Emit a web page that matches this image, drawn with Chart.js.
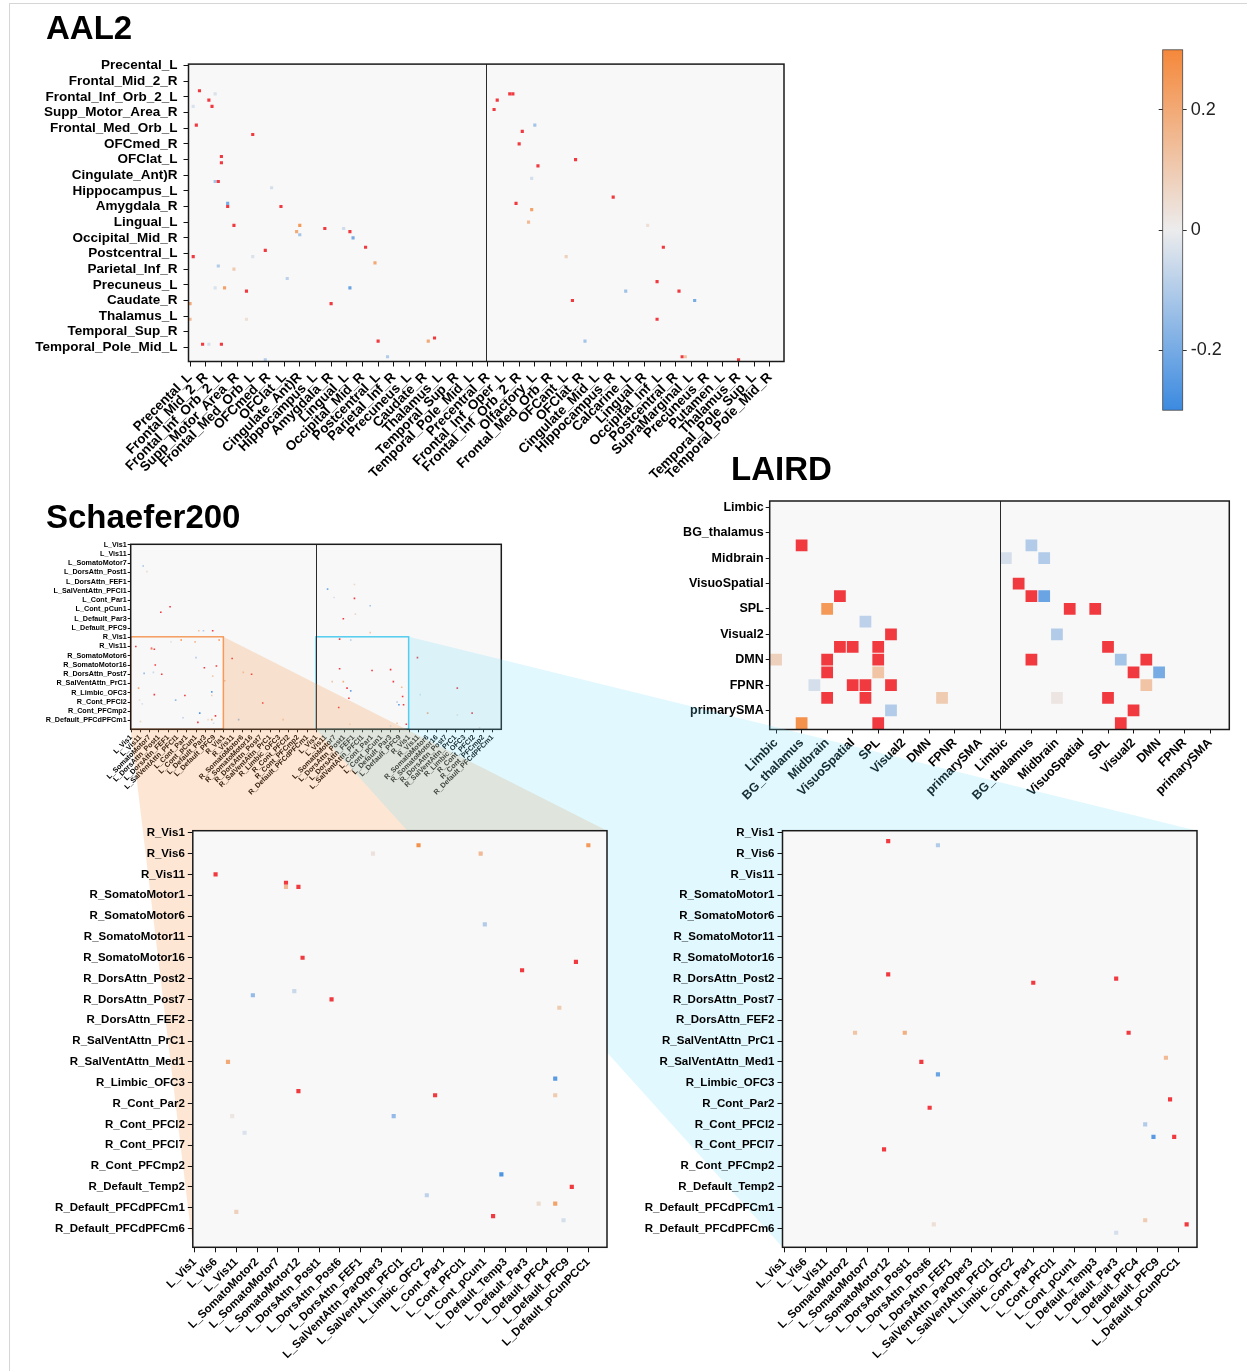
<!DOCTYPE html>
<html>
<head>
<meta charset="utf-8">
<script src="https://cdn.jsdelivr.net/npm/chart.js@4.4.1/dist/chart.umd.min.js"></script>
<style>
  html, body { margin: 0; padding: 0; background: #fff; }
  #page { position: relative; width: 1247px; height: 1371px; overflow: hidden; }
  canvas { position: absolute; }
  .frame { position: absolute; left: 9px; top: 3px; right: 0; bottom: 0; border-left: 1px solid #d6d6d6; border-top: 1px solid #d6d6d6; }
  .title { position: absolute; font: bold 33px 'Liberation Sans', Arial, sans-serif; line-height: 33px; color: #000; z-index: 5; white-space: nowrap; }
</style>
</head>
<body>
<div id="page">
  <div class="frame"></div>
  <div class="title" style="left:46px;top:11px">AAL2</div>
  <div class="title" style="left:731px;top:452px">LAIRD</div>
  <div class="title" style="left:46px;top:500px">Schaefer200</div>

  <canvas id="aal" width="800" height="440" style="left:0;top:50px;z-index:1"></canvas>
  <canvas id="cbar" width="97" height="390" style="left:1150px;top:35px;z-index:1"></canvas>
  <canvas id="laird" width="607" height="320" style="left:640px;top:490px;z-index:1"></canvas>
  <canvas id="sch" width="500" height="300" style="left:20px;top:530px;z-index:1"></canvas>
  <canvas id="links" width="1247" height="1371" style="left:0;top:0;z-index:2;pointer-events:none"></canvas>
  <canvas id="zoomL" width="605" height="556" style="left:20px;top:815px;z-index:3"></canvas>
  <canvas id="zoomR" width="595" height="556" style="left:620px;top:815px;z-index:3"></canvas>
</div>

<script>
// values above the colour bar's maximum are drawn in the "over" red
const R = 0.4;

// ---- AAL2 (95 regions per axis, labels every 5th region) ----
const aalRowLabels = ['Precental_L', 'Frontal_Mid_2_R', 'Frontal_Inf_Orb_2_L', 'Supp_Motor_Area_R',
  'Frontal_Med_Orb_L', 'OFCmed_R', 'OFClat_L', 'Cingulate_Ant)R', 'Hippocampus_L', 'Amygdala_R',
  'Lingual_L', 'Occipital_Mid_R', 'Postcentral_L', 'Parietal_Inf_R', 'Precuneus_L', 'Caudate_R',
  'Thalamus_L', 'Temporal_Sup_R', 'Temporal_Pole_Mid_L'];
const aalColLabels = aalRowLabels.concat(['Precentral_R', 'Frontal_Inf_Oper_L', 'Frontal_Inf_Orb_2_R',
  'Olfactory_L', 'Frontal_Med_Orb_R', 'OFCant_L', 'OFClat_R', 'Cingulate_Mid_L', 'Hippocampus_R',
  'Calcarine_L', 'Lingual_R', 'Occipital_Inf_L', 'Postcentral_R', 'SupraMarginal_L', 'Precuneus_R',
  'Putamen_L', 'Thalamus_R', 'Temporal_Pole_Sup_L', 'Temporal_Pole_Mid_R']);
// [column, row, value]
const aalCells = [
  [3, 8, R], [8, 9, -0.03], [6, 11, R], [7, 13, R], [1, 13, -0.03], [2, 19, R], [20, 22, R],
  [10, 29, R], [10, 31, R], [8, 37, -0.12], [9, 37, R], [26, 39, -0.04], [12, 44, -0.2], [12, 45, R],
  [29, 45, R], [14, 51, R], [35, 51, 0.25], [34, 53, 0.2], [35, 54, -0.12], [43, 52, R], [49, 52, -0.05],
  [51, 53, R], [52, 55, -0.2], [56, 58, R], [24, 59, R], [20, 61, -0.03], [1, 61, R], [59, 63, 0.2],
  [9, 64, -0.1], [14, 65, 0.1], [31, 68, -0.08], [11, 71, 0.22], [8, 71, -0.03], [51, 71, -0.22],
  [18, 72, R], [45, 76, R], [0, 76, 0.2], [0, 81, 0.15], [18, 81, 0.04], [60, 88, R], [76, 88, 0.2],
  [78, 87, R], [4, 89, R], [6, 89, -0.04], [10, 89, R], [24, 94, -0.1], [63, 93, -0.1],
  [98, 11, R], [97, 14, R], [102, 9, R], [103, 9, R], [110, 19, -0.12], [106, 21, R], [105, 25, R],
  [123, 30, R], [111, 32, R], [109, 36, -0.04], [135, 42, R], [104, 44, R], [109, 46, 0.22],
  [108, 50, 0.15], [146, 51, 0.04], [151, 58, R], [120, 61, 0.08], [149, 69, R], [139, 72, -0.13],
  [156, 72, R], [161, 75, -0.2], [122, 75, R], [149, 81, R], [126, 88, -0.12], [157, 93, R],
  [158, 93, 0.12], [175, 94, R]
];

// ---- LAIRD (18 rows, 36 columns, labels every 2nd) ----
const lairdLabels = ['Limbic', 'BG_thalamus', 'Midbrain', 'VisuoSpatial', 'SPL', 'Visual2', 'DMN', 'FPNR', 'primarySMA'];
const lairdCells = [
  [2, 3, R], [20, 3, -0.1], [18, 4, -0.04], [21, 4, -0.1], [19, 6, R], [5, 7, R], [20, 7, R],
  [21, 7, -0.22], [4, 8, 0.25], [23, 8, R], [25, 8, R], [7, 9, -0.08], [9, 10, R], [22, 10, -0.1],
  [5, 11, R], [6, 11, R], [8, 11, R], [26, 11, R], [0, 12, 0.08], [4, 12, R], [8, 12, R], [20, 12, R],
  [27, 12, -0.12], [29, 12, R], [4, 13, R], [8, 13, 0.12], [28, 13, R], [30, 13, -0.2], [3, 14, -0.04],
  [6, 14, R], [7, 14, R], [9, 14, R], [29, 14, 0.12], [4, 15, R], [7, 15, R], [13, 15, 0.1],
  [22, 15, 0.02], [26, 15, R], [9, 16, -0.1], [28, 16, R], [2, 17, 0.27], [8, 17, R], [27, 17, R]
];

// ---- Schaefer200 (200 rows, 400 columns); names of every 5th region ----
const schLabels = ['L_Vis1', 'L_Vis6', 'L_Vis11', 'L_SomatoMotor2', 'L_SomatoMotor7', 'L_SomatoMotor12',
  'L_DorsAttn_Post1', 'L_DorsAttn_Post6', 'L_DorsAttn_FEF1', 'L_SalVentAttn_ParOper3', 'L_SalVentAttn_PFCl1',
  'L_Limbic_OFC2', 'L_Cont_Par1', 'L_Cont_PFCl1', 'L_Cont_pCun1', 'L_Default_Temp3', 'L_Default_Par3',
  'L_Default_PFC4', 'L_Default_PFC9', 'L_Default_pCunPCC1',
  'R_Vis1', 'R_Vis6', 'R_Vis11', 'R_SomatoMotor1', 'R_SomatoMotor6', 'R_SomatoMotor11', 'R_SomatoMotor16',
  'R_DorsAttn_Post2', 'R_DorsAttn_Post7', 'R_DorsAttn_FEF2', 'R_SalVentAttn_PrC1', 'R_SalVentAttn_Med1',
  'R_Limbic_OFC3', 'R_Cont_Par2', 'R_Cont_PFCl2', 'R_Cont_PFCl7', 'R_Cont_PFCmp2', 'R_Default_Temp2',
  'R_Default_PFCdPFCm1', 'R_Default_PFCdPFCm6'];
const schCells = [
  // inside the orange inset
  [54, 103, 0.27], [95, 103, 0.25], [43, 105, 0.03], [69, 105, 0.15], [5, 110, R], [22, 112, R],
  [22, 113, 0.15], [25, 113, R], [70, 122, -0.1], [26, 130, R], [92, 131, R], [79, 133, R],
  [14, 139, -0.15], [24, 138, -0.06], [33, 140, R], [88, 142, 0.1], [8, 155, 0.2], [87, 159, -0.25],
  [25, 162, R], [58, 163, R], [87, 163, 0.1], [48, 168, -0.15], [9, 168, 0.02], [12, 172, -0.03],
  [74, 182, -0.27], [91, 185, R], [56, 187, -0.08], [83, 189, 0.05], [87, 189, 0.22], [10, 191, 0.08],
  [72, 192, R], [89, 193, -0.04],
  // inside the cyan inset
  [225, 102, R], [237, 103, -0.1], [225, 134, R], [260, 136, R], [280, 135, R], [217, 148, 0.12],
  [229, 148, 0.18], [283, 148, R], [292, 154, 0.15], [233, 155, R], [237, 158, -0.22], [293, 164, R],
  [235, 166, R], [287, 170, -0.1], [289, 173, -0.25], [294, 173, R], [224, 176, R], [287, 193, 0.1],
  [297, 194, R], [236, 194, 0.04], [280, 196, -0.04],
  // elsewhere
  [13, 23, -0.12], [17, 29, 0.05], [42, 67, R], [32, 73, R], [73, 93, 0.12], [78, 93, -0.1], [88, 93, R],
  [212, 48, -0.2], [219, 57, -0.04], [241, 43, 0.06], [241, 58, R], [258, 66, -0.12], [229, 80, R],
  [242, 75, 0.06], [258, 95, 0.1], [109, 123, R], [121, 138, 0.12], [130, 140, R], [101, 147, 0.12],
  [142, 171, R], [164, 189, 0.1], [116, 189, -0.15], [309, 122, R], [352, 155, R], [320, 182, 0.2],
  [368, 182, R], [312, 162, -0.04], [352, 184, 0.05], [376, 198, 0.05]
];

// ---- colour bar ----
const cbarRange = [-0.3, 0.3];
const cbarTicks = [-0.2, 0, 0.2];

const FONT = "'Liberation Sans', Arial, sans-serif";
const LOW = [59, 138, 224], MID = [236, 236, 237], HIGH = [245, 136, 58];
const OVER_COLOR = '#f03a40';

function cellColor(v) {
  if (v > cbarRange[1]) return OVER_COLOR;
  const t = Math.max(-1, Math.min(1, v / cbarRange[1]));
  const end = t < 0 ? LOW : HIGH;
  const c = MID.map((m, i) => Math.round(m + (end[i] - m) * Math.abs(t)));
  return 'rgb(' + c.join(',') + ')';
}

const panelPlugin = {
  id: 'panel',
  beforeDatasetsDraw(chart, args, opts) {
    const { ctx, chartArea: a } = chart;
    ctx.save();
    ctx.fillStyle = '#f8f8f8';
    ctx.fillRect(a.left, a.top, a.width, a.height);
    ctx.restore();
  },
  afterDatasetsDraw(chart, args, opts) {
    const { ctx, chartArea: a, scales: { x, y } } = chart;
    ctx.save();
    (opts.boxes || []).forEach(b => {
      ctx.strokeStyle = b.color;
      ctx.lineWidth = 1.5;
      const x0 = x.getPixelForValue(b.x[0]), x1 = x.getPixelForValue(b.x[1]);
      const y0 = y.getPixelForValue(b.y[0]), y1 = y.getPixelForValue(b.y[1]);
      ctx.strokeRect(x0, y0, x1 - x0, y1 - y0);
    });
    ctx.strokeStyle = '#2a2a2a';
    ctx.lineWidth = 1;
    (opts.dividers || []).forEach(d => {
      const px = Math.round(x.getPixelForValue(d)) + 0.5;
      ctx.beginPath();
      ctx.moveTo(px, a.top);
      ctx.lineTo(px, a.bottom);
      ctx.stroke();
    });
    ctx.strokeStyle = '#1a1a1a';
    ctx.lineWidth = 1.5;
    ctx.strokeRect(a.left, a.top, a.width, a.height);
    ctx.restore();
  }
};

function axis(o) {
  return {
    type: 'linear',
    min: -0.5,
    max: o.n - 0.5,
    reverse: !!o.reverse,
    afterBuildTicks: s => { s.ticks = o.labels.map((_, i) => ({ value: i * o.step })); },
    afterFit: s => { if (s.isHorizontal()) s.height = o.size; else s.width = o.size; },
    ticks: {
      autoSkip: false, minRotation: o.rot || 0, maxRotation: o.rot || 0,
      padding: o.pad, color: '#000',
      font: { family: FONT, size: o.fontSize, weight: 'bold' },
      callback: (v, i) => o.labels[i]
    },
    grid: { drawOnChartArea: false, drawTicks: true, tickLength: o.tick, color: '#111', tickWidth: 1 },
    border: { display: false }
  };
}

function heatmap(id, o) {
  return new Chart(document.getElementById(id), {
    type: 'scatter',
    data: {
      datasets: [{
        data: o.cells.map(([x, y, v]) => ({ x, y, v })),
        pointStyle: 'rect',
        borderWidth: 0,
        backgroundColor: c => cellColor(c.raw.v),
        pointRadius: c => {
          const s = c.chart.scales.x;
          const side = Math.abs(s.getPixelForValue(1) - s.getPixelForValue(0)) * o.fill;
          return Math.max(side, o.minSide || 0) / Math.SQRT2;
        }
      }]
    },
    options: {
      responsive: false,
      animation: false,
      events: [],
      layout: { padding: o.padding },
      plugins: {
        legend: { display: false },
        tooltip: { enabled: false },
        panel: { dividers: o.dividers, boxes: o.boxes }
      },
      scales: { x: axis(o.x), y: axis(Object.assign({ reverse: true }, o.y)) }
    },
    plugins: [panelPlugin]
  });
}

// AAL2
heatmap('aal', {
  cells: aalCells, fill: 1, minSide: 3,
  padding: { left: 0, top: 12, right: 16, bottom: 0 },
  dividers: [94.5],
  x: { labels: aalColLabels, step: 5, n: 190, size: 128.5, rot: 45, pad: 3, tick: 5, fontSize: 13.5 },
  y: { labels: aalRowLabels, step: 5, n: 95, size: 188.5, pad: 6, tick: 5, fontSize: 13.5 }
});

// LAIRD
heatmap('laird', {
  cells: lairdCells, fill: 0.92,
  padding: { left: 0, top: 11, right: 17.7, bottom: 0 },
  dividers: [17.5],
  x: { labels: lairdLabels.concat(lairdLabels), step: 2, n: 36, size: 80.5, rot: 45, pad: 2, tick: 4, fontSize: 12.5 },
  y: { labels: lairdLabels, step: 2, n: 18, size: 129.7, pad: 2, tick: 4, fontSize: 12.5 }
});

// Schaefer200 overview
const sch10 = schLabels.filter((_, i) => i % 2 === 0);
const sch = heatmap('sch', {
  cells: schCells, fill: 1, minSide: 1.6,
  padding: { left: 0, top: 14.3, right: 18.7, bottom: 0 },
  dividers: [199.5],
  boxes: [
    { x: [-0.5, 99.5], y: [99.5, 199.5], color: '#f59c5e' },
    { x: [199.5, 299.5], y: [99.5, 199.5], color: '#52cdf0' }
  ],
  x: { labels: sch10.concat(sch10), step: 10, n: 400, size: 100.7, rot: 45, pad: 1, tick: 3, fontSize: 7.2 },
  y: { labels: sch10, step: 10, n: 200, size: 110.7, pad: 1, tick: 3, fontSize: 7.2 }
});

// the two insets, taken from the same Schaefer200 cells
const insetL = schCells.filter(([c, r]) => c < 100 && r >= 100).map(([c, r, v]) => [c, r - 100, v]);
const insetR = schCells.filter(([c, r]) => c >= 200 && c < 300 && r >= 100).map(([c, r, v]) => [c - 200, r - 100, v]);
const zl = heatmap('zoomL', {
  cells: insetL, fill: 1,
  padding: { left: 0, top: 15.7, right: 18, bottom: 0 },
  x: { labels: schLabels.slice(0, 20), step: 5, n: 100, size: 123.7, rot: 45, pad: 3, tick: 5, fontSize: 11.5 },
  y: { labels: schLabels.slice(20), step: 5, n: 100, size: 172.8, pad: 3, tick: 5, fontSize: 11.5 }
});
const zr = heatmap('zoomR', {
  cells: insetR, fill: 1,
  padding: { left: 0, top: 15.7, right: 18, bottom: 0 },
  x: { labels: schLabels.slice(0, 20), step: 5, n: 100, size: 123.7, rot: 45, pad: 3, tick: 5, fontSize: 11.5 },
  y: { labels: schLabels.slice(20), step: 5, n: 100, size: 162.5, pad: 3, tick: 5, fontSize: 11.5 }
});

// colour bar
function cbarGradient(chart) {
  const a = chart.chartArea;
  if (!a) return '#ccc';
  const g = chart.ctx.createLinearGradient(0, a.bottom, 0, a.top);
  g.addColorStop(0, 'rgb(' + LOW.join(',') + ')');
  g.addColorStop(0.5, 'rgb(' + MID.join(',') + ')');
  g.addColorStop(1, 'rgb(' + HIGH.join(',') + ')');
  return g;
}
const cbarAxis = (pos, size, showLabels) => ({
  type: 'linear', position: pos, axis: 'y', min: cbarRange[0], max: cbarRange[1],
  afterBuildTicks: s => { s.ticks = cbarTicks.map(v => ({ value: v })); },
  afterFit: s => { s.width = size; },
  ticks: {
    display: showLabels, padding: 4, color: '#222',
    font: { family: FONT, size: 18 },
    callback: v => (v === 0 ? '0' : v.toFixed(1))
  },
  grid: { drawOnChartArea: false, drawTicks: true, tickLength: 4, color: '#333' },
  border: { display: false }
});
new Chart(document.getElementById('cbar'), {
  type: 'bar',
  data: {
    labels: [''],
    datasets: [{
      data: [cbarRange], yAxisID: 'y',
      backgroundColor: c => cbarGradient(c.chart),
      borderWidth: 0, barPercentage: 1, categoryPercentage: 1
    }]
  },
  options: {
    responsive: false, animation: false, events: [],
    layout: { padding: { left: 8.7, top: 12.3, right: 0, bottom: 11.7 } },
    plugins: { legend: { display: false }, tooltip: { enabled: false } },
    scales: {
      x: { display: false },
      y: cbarAxis('right', 64.3, true),
      yl: cbarAxis('left', 4, false)
    }
  },
  plugins: [{
    id: 'cbarFrame',
    afterDatasetsDraw(chart) {
      const { ctx, chartArea: a } = chart;
      ctx.save();
      ctx.strokeStyle = '#444';
      ctx.lineWidth = 0.8;
      ctx.strokeRect(a.left, a.top, a.width, a.height);
      ctx.restore();
    }
  }]
});

// connector bands from the inset boxes to the enlarged panels
function pagePt(chart, px, py) {
  return [chart.canvas.offsetLeft + px, chart.canvas.offsetTop + py];
}
function drawLink(ctx, target, cols, color) {
  const sx = sch.scales.x, sy = sch.scales.y;
  const bx0 = sx.getPixelForValue(cols[0]), bx1 = sx.getPixelForValue(cols[1]);
  const by0 = sy.getPixelForValue(99.5), by1 = sy.getPixelForValue(199.5);
  const a = target.chartArea;
  const pts = [
    pagePt(sch, bx1, by0), pagePt(target, a.right, a.top), pagePt(target, a.right, a.bottom),
    pagePt(target, a.left, a.bottom), pagePt(sch, bx0, by1), pagePt(sch, bx1, by1)
  ];
  ctx.beginPath();
  pts.forEach(([x, y], i) => (i ? ctx.lineTo(x, y) : ctx.moveTo(x, y)));
  ctx.closePath();
  ctx.fillStyle = color;
  ctx.fill();
}
const lctx = document.getElementById('links').getContext('2d');
drawLink(lctx, zl, [-0.5, 99.5], 'rgba(245,140,60,0.22)');
drawLink(lctx, zr, [199.5, 299.5], 'rgba(100,220,250,0.2)');
</script>
</body>
</html>
